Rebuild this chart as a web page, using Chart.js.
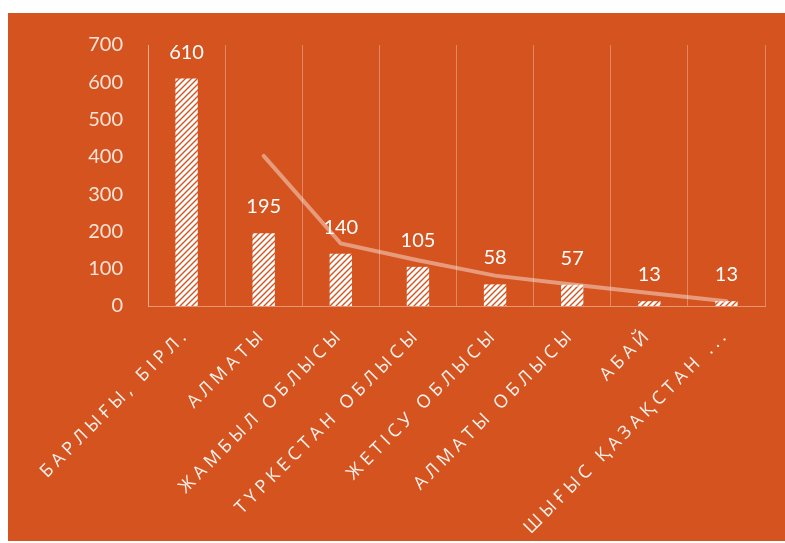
<!DOCTYPE html>
<html lang="kk">
<head>
<meta charset="UTF-8">
<title>Chart</title>
<script src="https://cdn.jsdelivr.net/npm/chart.js"></script>
<style>
  html, body { margin: 0; padding: 0; background: #fff; }
  #wrap { width: 785px; height: 543px; }
</style>
</head>
<body>
<div id="wrap"><canvas id="chart" width="785" height="543"></canvas></div>
<script>
const categories = ['БАРЛЫҒЫ, БІРЛ.', 'АЛМАТЫ', 'ЖАМБЫЛ ОБЛЫСЫ', 'ТҮРКЕСТАН ОБЛЫСЫ',
  'ЖЕТІСУ ОБЛЫСЫ', 'АЛМАТЫ ОБЛЫСЫ', 'АБАЙ', 'ШЫҒЫС ҚАЗАҚСТАН ...'];
const counts = [610, 195, 140, 105, 58, 57, 13, 13];
// trend line (2-period moving average)
const trend = [null, 402.5, 167.5, 122.5, 81.5, 57.5, 35, 13];
const yTicks = [0, 100, 200, 300, 400, 500, 600, 700];

const ORANGE = '#D5531E';

function hatch() {
  const c = document.createElement('canvas');
  c.width = 6; c.height = 6;
  const g = c.getContext('2d');
  g.fillStyle = '#ffffff';
  g.fillRect(0, 0, 6, 6);
  g.strokeStyle = ORANGE;
  g.lineWidth = 1.4;
  g.beginPath();
  g.moveTo(-1, 7); g.lineTo(7, -1);
  g.moveTo(-4, 4); g.lineTo(4, -4);
  g.moveTo(2, 10); g.lineTo(10, 2);
  g.stroke();
  return g.createPattern(c, 'repeat');
}

const bgPlugin = {
  id: 'bg',
  beforeDraw(chart) {
    const ctx = chart.ctx;
    ctx.save();
    ctx.fillStyle = ORANGE;
    ctx.fillRect(8, 13, chart.width - 8, 528);
    ctx.restore();
  },
  afterLayout(chart) {
    const s = chart.scales.x;
    if (s && !s._spaced) {
      const orig = s.drawLabels.bind(s);
      s.drawLabels = function (area) {
        chart.ctx.save();
        chart.ctx.letterSpacing = '4.5px';
        orig(area);
        chart.ctx.restore();
      };
      s._spaced = true;
    }
  }
};

const labelPlugin = {
  id: 'valueLabels',
  afterDatasetsDraw(chart) {
    const ctx = chart.ctx;
    const meta = chart.getDatasetMeta(0);
    const y = chart.scales.y;
    ctx.save();
    ctx.font = '20px Lato, "Open Sans", sans-serif';
    ctx.fillStyle = '#ffffff';
    ctx.textAlign = 'center';
    ctx.textBaseline = 'alphabetic';
    meta.data.forEach((bar, i) => {
      ctx.fillText(String(counts[i]), bar.x, y.getPixelForValue(counts[i]) - 20);
    });
    ctx.restore();
  }
};

new Chart(document.getElementById('chart'), {
  type: 'bar',
  data: {
    labels: categories,
    datasets: [{
      type: 'bar',
      data: counts,
      backgroundColor: hatch(),
      borderWidth: 0,
      categoryPercentage: 1,
      barPercentage: 0.29,
      order: 2
    }, {
      type: 'line',
      data: trend,
      borderColor: 'rgba(255, 255, 255, 0.42)',
      borderWidth: 4,
      borderCapStyle: 'round',
      pointRadius: 0,
      tension: 0,
      order: 1
    }]
  },
  options: {
    responsive: false,
    animation: false,
    events: [],
    layout: { padding: { left: 0, top: 45, right: 20, bottom: 0 } },
    plugins: { legend: { display: false }, tooltip: { enabled: false } },
    scales: {
      x: {
        offset: true,
        grid: { offset: true, color: 'rgba(255,255,255,0.3)', lineWidth: 1, drawTicks: false },
        border: { color: 'rgba(255,255,255,0.4)' },
        ticks: {
          autoSkip: false,
          minRotation: 45,
          maxRotation: 45,
          padding: 18,
          color: 'rgba(255,255,255,0.92)',
          font: { family: '"Open Sans", sans-serif', size: 18 }
        },
        afterFit(s) { s.height = 237; }
      },
      y: {
        min: 0,
        max: 700,
        afterBuildTicks(s) { s.ticks = yTicks.map(v => ({ value: v })); },
        grid: { display: false, drawTicks: false },
        border: { display: true, color: 'rgba(255,255,255,0.3)' },
        ticks: {
          padding: 25,
          color: 'rgba(255,240,232,0.92)',
          font: { family: 'Lato, "Open Sans", sans-serif', size: 20 }
        },
        afterFit(s) { s.width = 148; }
      }
    }
  },
  plugins: [bgPlugin, labelPlugin]
});
</script>
</body>
</html>
